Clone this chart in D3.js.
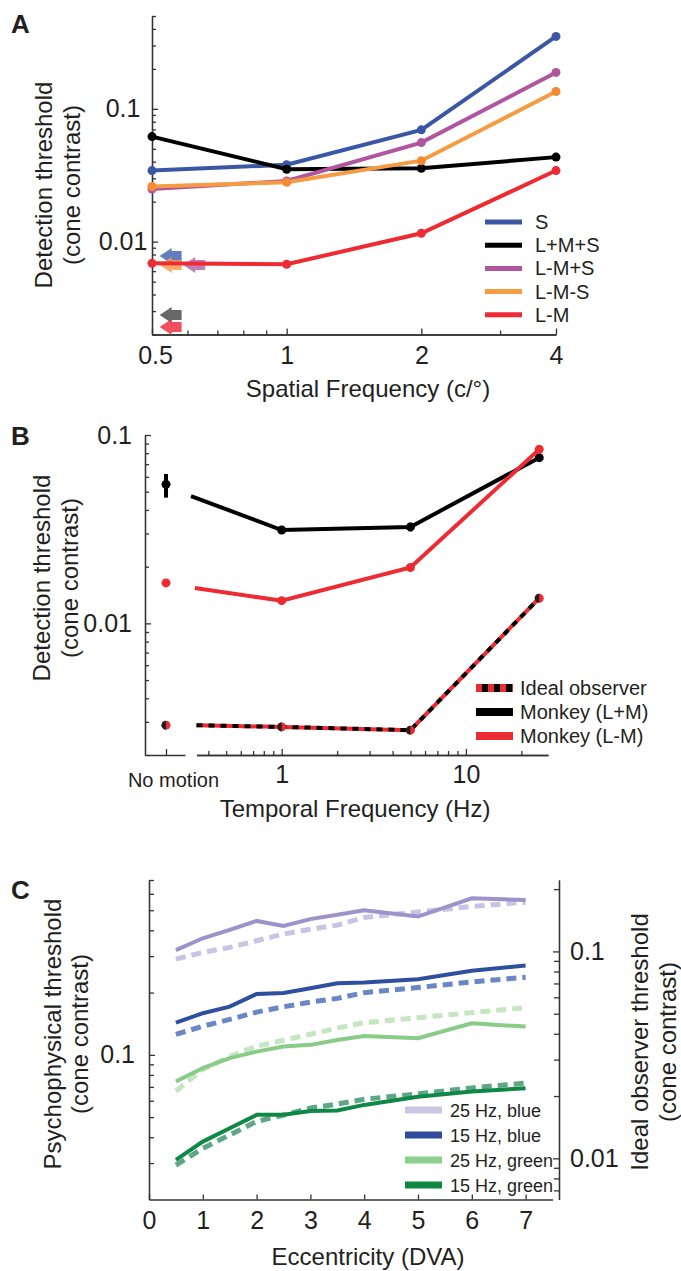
<!DOCTYPE html>
<html>
<head>
<meta charset="utf-8">
<script src="https://cdn.jsdelivr.net/npm/d3@7"></script>
<style>
body { margin: 0; background: #fff; }
text { font-family: "Liberation Sans", Arial, Helvetica, sans-serif; fill: #231f20; }
.axis path, .axis line { stroke: #333; stroke-width: 1.3; }
.axis text { font-size: 25px; fill: #231f20; }
</style>
</head>
<body>
<div id="fig"></div>
<script>
// ---------- data: panel A ----------
var sfValues = [0.5, 1, 2, 4];
var namesA = ["S", "L+M+S", "L-M+S", "L-M-S", "L-M"];
var thrS     = [0.0343, 0.0379, 0.0695, 0.351];
var thrLMS   = [0.0618, 0.0351, 0.0357, 0.0433];
var thrLmMpS = [0.0249, 0.0286, 0.0557, 0.188];
var thrLmMmS = [0.0260, 0.0280, 0.0407, 0.135];
var thrLmM   = [0.00687, 0.00676, 0.01156, 0.0343];
// ideal observer arrows (sf position of tip, threshold)
var arrowSf  = [0.52, 0.52, 0.587, 0.52, 0.52];
var arrowThr = [0.0078, 0.00667, 0.00667, 0.0028, 0.00228];
var arrowCol = ["#4767b3", "#f6a04d", "#b866ab", "#4d4d4d", "#ef3340"];
var yTicksA = [0.01, 0.1];

// ---------- data: panel B ----------
var tfValues = [1, 5, 25];
var lineStartTf = [0.322, 0.338, 0.345];      // black, red, ideal
var thrMonkeyLpM = [0.0474, 0.0313, 0.0325, 0.0758];
var thrMonkeyLmM = [0.0154, 0.0132, 0.0198, 0.0839];
var thrIdealB    = [0.00288, 0.00282, 0.00271, 0.0136];
var noMotion = ["No motion"];
var noMotionThr = [0.0547, 0.0164, 0.00288];   // black, red, ideal
var errBlackNoMotion = [0.0465, 0.0621];
var errRedNoMotion = [0.0157, 0.0172];
var errBlack5Hz = [0.0308, 0.0342];
var namesB = ["Ideal observer", "Monkey (L+M)", "Monkey (L-M)"];

// ---------- data: panel C ----------
var ecc = [0.5, 1, 1.5, 2, 2.5, 3, 3.5, 4, 5, 6, 7];
var psy25Blue  = [0.321, 0.366, 0.402, 0.444, 0.420, 0.453, 0.475, 0.500, 0.466, 0.571, 0.560];
var psy15Blue  = [0.143, 0.159, 0.171, 0.197, 0.199, 0.210, 0.222, 0.224, 0.232, 0.255, 0.270];
var psy25Green = [0.0743, 0.0863, 0.0964, 0.1037, 0.1097, 0.1118, 0.118, 0.1235, 0.1204, 0.142, 0.137];
var psy15Green = [0.0311, 0.0381, 0.0442, 0.0513, 0.0513, 0.0536, 0.0538, 0.0573, 0.0628, 0.0665, 0.069];
var ideal25Blue  = [0.0918, 0.0989, 0.1046, 0.1126, 0.1213, 0.128, 0.134, 0.146, 0.155, 0.165, 0.173];
var ideal15Blue  = [0.0397, 0.0435, 0.0469, 0.0509, 0.054, 0.0569, 0.0593, 0.0632, 0.0669, 0.0712, 0.075];
var ideal25Green = [0.0211, 0.0269, 0.0311, 0.0348, 0.0372, 0.0398, 0.0426, 0.0452, 0.0478, 0.0506, 0.0535];
var ideal15Green = [0.00928, 0.01117, 0.01297, 0.01507, 0.0162, 0.0175, 0.0183, 0.0193, 0.0205, 0.0219, 0.0231];
var namesC = ["25 Hz, blue", "15 Hz, blue", "25 Hz, green", "15 Hz, green"];
var eccTicks = [0, 1, 2, 3, 4, 5, 6, 7];

var svg = d3.select('#fig')
  .append('svg')
  .attr('width', 681)
  .attr('height', 1271);

function minorTicks(lo, hi) {
  var t = [];
  for (var e = -4; e < 3; e++) {
    for (var m = 2; m <= 9; m++) {
      var v = m * Math.pow(10, e);
      if (v >= lo * 0.999 && v <= hi * 1.001) t.push(+v.toPrecision(3));
    }
  }
  return t;
}

function yTitle(x, y, text) {
  svg.append('text')
    .attr('transform', 'translate(' + x + ',' + y + ') rotate(-90)')
    .attr('text-anchor', 'middle')
    .style('font-size', '24px')
    .text(text);
}

function panelLabel(x, y, t) {
  svg.append('text')
    .attr('x', x).attr('y', y)
    .style('font-size', '26px')
    .style('font-weight', 'bold')
    .text(t);
}

// =============== PANEL A ===============
var xA = d3.scaleLog().domain([0.5, 4]).range([152, 556]);
var yA = d3.scaleLog().domain([0.002, 0.5]).range([334.5, 16]);

var gA = svg.append('g');

gA.append('g').attr('class', 'axis')
  .attr('transform', 'translate(152,0)')
  .call(d3.axisLeft(yA).tickValues(minorTicks(0.002, 0.5)).tickFormat('').tickSize(-4).tickSizeOuter(0));
gA.append('g').attr('class', 'axis')
  .attr('transform', 'translate(152,0)')
  .call(d3.axisLeft(yA).tickValues(yTicksA).tickFormat(d3.format('')).tickSize(-6).tickSizeOuter(0))
  .selectAll('text').attr('text-anchor', 'middle').attr('x', -29);

gA.append('g').attr('class', 'axis')
  .attr('transform', 'translate(0,334.5)')
  .call(d3.axisBottom(xA).tickValues([0.6, 0.7, 0.8, 0.9, 3]).tickFormat('').tickSize(-4).tickSizeOuter(0));
gA.append('g').attr('class', 'axis')
  .attr('transform', 'translate(0,334.5)')
  .call(d3.axisBottom(xA).tickValues(sfValues).tickFormat(d3.format('')).tickSize(-6).tickSizeOuter(0).tickPadding(12))
  .selectAll('text').attr('dx', function(d) { return d === 0.5 ? 3 : 0; });

gA.append('text').attr('x', 368).attr('y', 397).attr('text-anchor', 'middle')
  .style('font-size', '24px').text('Spatial Frequency (c/°)');
yTitle(52, 185, 'Detection threshold');
yTitle(80, 185, '(cone contrast)');
panelLabel(11, 33, 'A');

var colA = ["#3a56a5", "#000000", "#b0569f", "#f59b42", "#ee2a33"];
var markA = ["#3a56a5", "#000000", "#b0569f", "#f58a34", "#ee2a33"];
var dataA = [thrS, thrLMS, thrLmMpS, thrLmMmS, thrLmM];

var lineA = d3.line()
  .x(function(d, i) { return xA(sfValues[i]); })
  .y(function(d) { return yA(d); });

// arrows
arrowThr.forEach(function(t, i) {
  var x0 = xA(arrowSf[i]), y0 = yA(t);
  gA.append('path')
    .attr('d', 'M' + x0 + ',' + y0 + ' l12,-8 l0,3 l10,0 l0,10 l-10,0 l0,3 z')
    .attr('fill', arrowCol[i])
    .attr('opacity', 0.85);
});

dataA.forEach(function(s, k) {
  gA.append('path')
    .attr('d', lineA(s))
    .attr('fill', 'none')
    .attr('stroke', colA[k])
    .attr('stroke-width', 4);
  gA.selectAll('.ptA' + k)
    .data(s)
    .enter().append('circle')
    .attr('cx', function(d, i) { return xA(sfValues[i]); })
    .attr('cy', function(d) { return yA(d); })
    .attr('r', 4.5)
    .attr('fill', markA[k]);
});

namesA.forEach(function(n, i) {
  var ly = 222 + i * 23.2;
  gA.append('line').attr('x1', 485).attr('x2', 522).attr('y1', ly).attr('y2', ly)
    .attr('stroke', colA[i]).attr('stroke-width', 5);
  gA.append('text').attr('x', 535).attr('y', ly + 7).style('font-size', '20px').text(n);
});

// =============== PANEL B ===============
var xB = d3.scaleLog().domain([0.345, 27.9]).range([196.5, 548]);
var xB0 = d3.scalePoint().domain(noMotion).range([147, 185]);
var yB = d3.scaleLog().domain([0.002, 0.1]).range([755, 435]);

var gB = svg.append('g');

gB.append('g').attr('class', 'axis')
  .attr('transform', 'translate(145,0)')
  .call(d3.axisLeft(yB).tickValues(minorTicks(0.002, 0.1)).tickFormat('').tickSize(-4).tickSizeOuter(0));
gB.append('g').attr('class', 'axis')
  .attr('transform', 'translate(145,0)')
  .call(d3.axisLeft(yB).tickValues([0.01, 0.1]).tickFormat(d3.format('')).tickSize(-6).tickSizeOuter(0).tickPadding(13));

gB.append('g').attr('class', 'axis')
  .attr('transform', 'translate(0,755)')
  .call(d3.axisBottom(xB).tickValues([0.4, 0.5, 0.6, 0.7, 0.8, 0.9, 2, 3, 4, 5, 6, 7, 8, 9, 20]).tickFormat('').tickSize(-4).tickSizeOuter(0));
gB.append('g').attr('class', 'axis')
  .attr('transform', 'translate(0,755)')
  .call(d3.axisBottom(xB).tickValues([1, 10]).tickFormat(d3.format('')).tickSize(-6).tickSizeOuter(0).tickPadding(10));
gB.append('g').attr('class', 'axis')
  .attr('transform', 'translate(0,755)')
  .call(d3.axisBottom(xB0).tickSize(-6).tickSizeOuter(0).tickPadding(18))
  .selectAll('text').style('font-size', '20px').attr('dx', 7);

gB.append('text').attr('x', 355).attr('y', 817).attr('text-anchor', 'middle')
  .style('font-size', '24px').text('Temporal Frequency (Hz)');
yTitle(50, 578, 'Detection threshold');
yTitle(78, 578, '(cone contrast)');
panelLabel(11, 445, 'B');

var xNM = xB0('No motion');

function lineB(startTf, vals) {
  var pts = [[xB(startTf), yB(vals[0])]];
  tfValues.forEach(function(t, i) { pts.push([xB(t), yB(vals[i + 1])]); });
  return d3.line()(pts);
}

// error bars
[[errBlackNoMotion, xNM, '#000'], [errBlack5Hz, xB(5), '#000'], [errRedNoMotion, xNM, '#ee2a33']]
  .forEach(function(e) {
    gB.append('line')
      .attr('x1', e[1]).attr('x2', e[1])
      .attr('y1', yB(e[0][0])).attr('y2', yB(e[0][1]))
      .attr('stroke', e[2]).attr('stroke-width', 4);
  });

// monkey lines
[[thrMonkeyLpM, '#000', 0, 0], [thrMonkeyLmM, '#ee2a33', 1, 1]].forEach(function(s) {
  gB.append('path')
    .attr('d', lineB(lineStartTf[s[2]], s[0]))
    .attr('fill', 'none').attr('stroke', s[1]).attr('stroke-width', 4);
  gB.append('circle').attr('cx', xNM).attr('cy', yB(noMotionThr[s[3]])).attr('r', 4.5).attr('fill', s[1]);
  tfValues.forEach(function(t, i) {
    gB.append('circle').attr('cx', xB(t)).attr('cy', yB(s[0][i + 1])).attr('r', 4.5).attr('fill', s[1]);
  });
});

// ideal observer
gB.append('path').attr('d', lineB(lineStartTf[2], thrIdealB))
  .attr('fill', 'none').attr('stroke', '#ee2a33').attr('stroke-width', 4);
gB.append('path').attr('d', lineB(lineStartTf[2], thrIdealB))
  .attr('fill', 'none').attr('stroke', '#000').attr('stroke-width', 4).attr('stroke-dasharray', '6,6');

function halfDot(cx, cy) {
  gB.append('circle').attr('cx', cx).attr('cy', cy).attr('r', 4.5).attr('fill', '#ee2a33');
  gB.append('path')
    .attr('d', 'M' + cx + ',' + (cy - 4.5) + ' A4.5,4.5 0 0 0 ' + cx + ',' + (cy + 4.5) + ' Z')
    .attr('fill', '#231f20');
}
halfDot(xNM, yB(noMotionThr[2]));
tfValues.forEach(function(t, i) { halfDot(xB(t), yB(thrIdealB[i + 1])); });

// legend B
namesB.forEach(function(n, i) {
  var ly = 688 + i * 24;
  gB.append('line').attr('x1', 476).attr('x2', 513).attr('y1', ly).attr('y2', ly)
    .attr('stroke', i === 1 ? '#000' : '#ee2a33').attr('stroke-width', 8);
  if (i === 0) {
    gB.append('line').attr('x1', 476).attr('x2', 513).attr('y1', ly).attr('y2', ly)
      .attr('stroke', '#000').attr('stroke-width', 8).attr('stroke-dasharray', '6,6').attr('stroke-dashoffset', -6);
  }
  gB.append('text').attr('x', 520).attr('y', ly + 7).style('font-size', '20px').text(n);
});

// =============== PANEL C ===============
var xC = d3.scaleLinear().domain([0, 7.5]).range([149, 552.5]);
var yCL = d3.scaleLog().domain([0.02, 0.7]).range([1199.5, 880]);
var yCR = d3.scaleLog().domain([0.02 / Math.sqrt(10), 0.7 / Math.sqrt(10)]).range([1199.5, 880]);

var gC = svg.append('g');

gC.append('g').attr('class', 'axis')
  .attr('transform', 'translate(149,0)')
  .call(d3.axisLeft(yCL).tickValues(minorTicks(0.021, 0.7)).tickFormat('').tickSize(-5).tickSizeOuter(0));
gC.append('g').attr('class', 'axis')
  .attr('transform', 'translate(149,0)')
  .call(d3.axisLeft(yCL).tickValues([0.1]).tickFormat(d3.format('')).tickSize(-6).tickSizeOuter(0).tickPadding(14));

gC.append('g').attr('class', 'axis')
  .attr('transform', 'translate(559,0)')
  .call(d3.axisRight(yCR).tickValues(minorTicks(0.0065, 0.22)).tickFormat('').tickSize(-5).tickSizeOuter(0));
gC.append('g').attr('class', 'axis')
  .attr('transform', 'translate(559,0)')
  .call(d3.axisRight(yCR).tickValues([0.01, 0.1]).tickFormat(d3.format('')).tickSize(-6).tickSizeOuter(0).tickPadding(11));

gC.append('g').attr('class', 'axis')
  .attr('transform', 'translate(0,1199.5)')
  .call(d3.axisBottom(xC).tickValues(eccTicks).tickFormat(d3.format('d')).tickSize(-5).tickSizeOuter(0).tickPadding(12));

gC.append('text').attr('x', 368).attr('y', 1265).attr('text-anchor', 'middle')
  .style('font-size', '24px').text('Eccentricity (DVA)');
yTitle(61, 1034, 'Psychophysical threshold');
yTitle(88, 1034, '(cone contrast)');
yTitle(648, 1042, 'Ideal observer threshold');
yTitle(676, 1042, '(cone contrast)');
panelLabel(11, 899, 'C');

var seriesC = [
  { psy: psy25Blue,  ideal: ideal25Blue,  solid: '#9d92c9', dash: '#c8c4e3', leg: '#cbc7e3' },
  { psy: psy15Blue,  ideal: ideal15Blue,  solid: '#2e4f9f', dash: '#6b86c4', leg: '#2f4c9c' },
  { psy: psy25Green, ideal: ideal25Green, solid: '#88cc88', dash: '#c6e5c1', leg: '#8dd08d' },
  { psy: psy15Green, ideal: ideal15Green, solid: '#0f8845', dash: '#5ea784', leg: '#0c8843' }
];

seriesC.forEach(function(s) {
  var lineIdeal = d3.line().x(function(d, i) { return xC(ecc[i]); }).y(function(d) { return yCR(d); });
  var linePsy = d3.line().x(function(d, i) { return xC(ecc[i]); }).y(function(d) { return yCL(d); });
  gC.append('path').attr('d', lineIdeal(s.ideal))
    .attr('fill', 'none').attr('stroke', s.dash).attr('stroke-width', 5).attr('stroke-dasharray', '10,6');
  gC.append('path').attr('d', linePsy(s.psy))
    .attr('fill', 'none').attr('stroke', s.solid).attr('stroke-width', 4);
});

namesC.forEach(function(n, i) {
  var ly = 1110 + i * 25;
  gC.append('line').attr('x1', 405).attr('x2', 442).attr('y1', ly).attr('y2', ly)
    .attr('stroke', seriesC[i].leg).attr('stroke-width', 7);
  gC.append('text').attr('x', 450).attr('y', ly + 6.5).style('font-size', '18px').text(n);
});
</script>
</body>
</html>
